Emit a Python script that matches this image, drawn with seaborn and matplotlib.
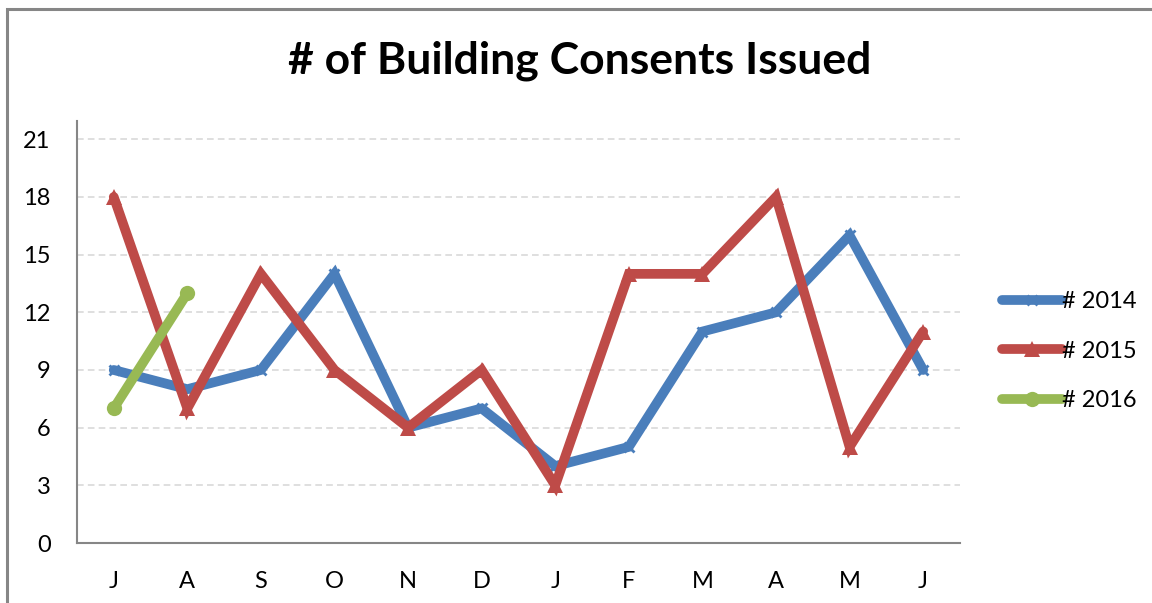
import matplotlib
matplotlib.use("Agg")
import matplotlib.pyplot as plt
import seaborn as sns
import pandas as pd
from matplotlib.patches import Rectangle

# Chart data
months = ["J", "A", "S", "O", "N", "D", "J", "F", "M", "A", "M", "J"]
consents_2014 = [9, 8, 9, 14, 6, 7, 4, 5, 11, 12, 16, 9]
consents_2015 = [18, 7, 14, 9, 6, 9, 3, 14, 14, 18, 5, 11]
consents_2016 = [7, 13]
y_ticks = [0, 3, 6, 9, 12, 15, 18, 21]

series = {
    "# 2014": (consents_2014, "#4A7EBB", "x", 7),
    "# 2015": (consents_2015, "#BE4B48", "^", 12),
    "# 2016": (consents_2016, "#98B954", "o", 11),
}

sns.set_theme(style="white")
plt.rcParams["font.family"] = ["Lato", "DejaVu Sans"]
plt.rcParams["text.color"] = "black"
plt.rcParams["xtick.color"] = "black"
plt.rcParams["ytick.color"] = "black"

fig = plt.figure(figsize=(11.52, 6.03), dpi=100)
ax = fig.add_axes([0.0668, 0.0995, 0.7665, 0.6998])

for name, (vals, color, marker, msize) in series.items():
    df = pd.DataFrame({"pos": range(len(vals)), "value": vals})
    sns.lineplot(data=df, x="pos", y="value", ax=ax, color=color, lw=7,
                 marker=marker, markersize=msize, markeredgewidth=2 if marker == "x" else 0,
                 markeredgecolor=color, label=name, solid_joinstyle="miter",
                 solid_capstyle="round", zorder=3)

ax.set_xlim(-0.5, len(months) - 0.5)
ax.set_ylim(0, 21.95)
ax.set_yticks(y_ticks)
ax.set_yticklabels([str(v) for v in y_ticks], fontsize=17)
ax.set_xticks(range(len(months)))
ax.set_xticklabels(months, fontsize=17)
ax.set_xticks([i - 0.5 for i in range(len(months) + 1)], minor=True)
ax.tick_params(axis="x", which="major", length=0, pad=20, colors="black")
ax.tick_params(axis="x", which="minor", length=7, width=1.3, color="#868686", direction="out")
ax.tick_params(axis="y", which="major", length=7, width=1.3, color="#868686",
               labelcolor="black", direction="out", pad=12)
ax.set_xlabel("")
ax.set_ylabel("")

for y in y_ticks[1:]:
    ax.axhline(y, color="#D9D9D9", lw=1.2, ls=(0, (4, 2.5)), zorder=1)

for side in ["top", "right"]:
    ax.spines[side].set_visible(False)
for side in ["left", "bottom"]:
    ax.spines[side].set_color("#868686")
    ax.spines[side].set_linewidth(1.5)

leg = ax.legend(loc="center left", bbox_to_anchor=(1.037, 0.455), frameon=False,
                fontsize=17, handlelength=2.55, handletextpad=0.0, labelspacing=1.2,
                borderaxespad=0)

fig.text(0.503, 0.9, "# of Building Consents Issued", ha="center", va="center",
         fontsize=32, fontweight="bold", color="black")

fig.patches.append(Rectangle((7 / 1152, -0.02), 1.1, 1 - 9 / 603 + 0.02,
                             transform=fig.transFigure, fill=False,
                             edgecolor="#868686", lw=2.2, zorder=0))

fig.savefig("out.png", dpi=100)
